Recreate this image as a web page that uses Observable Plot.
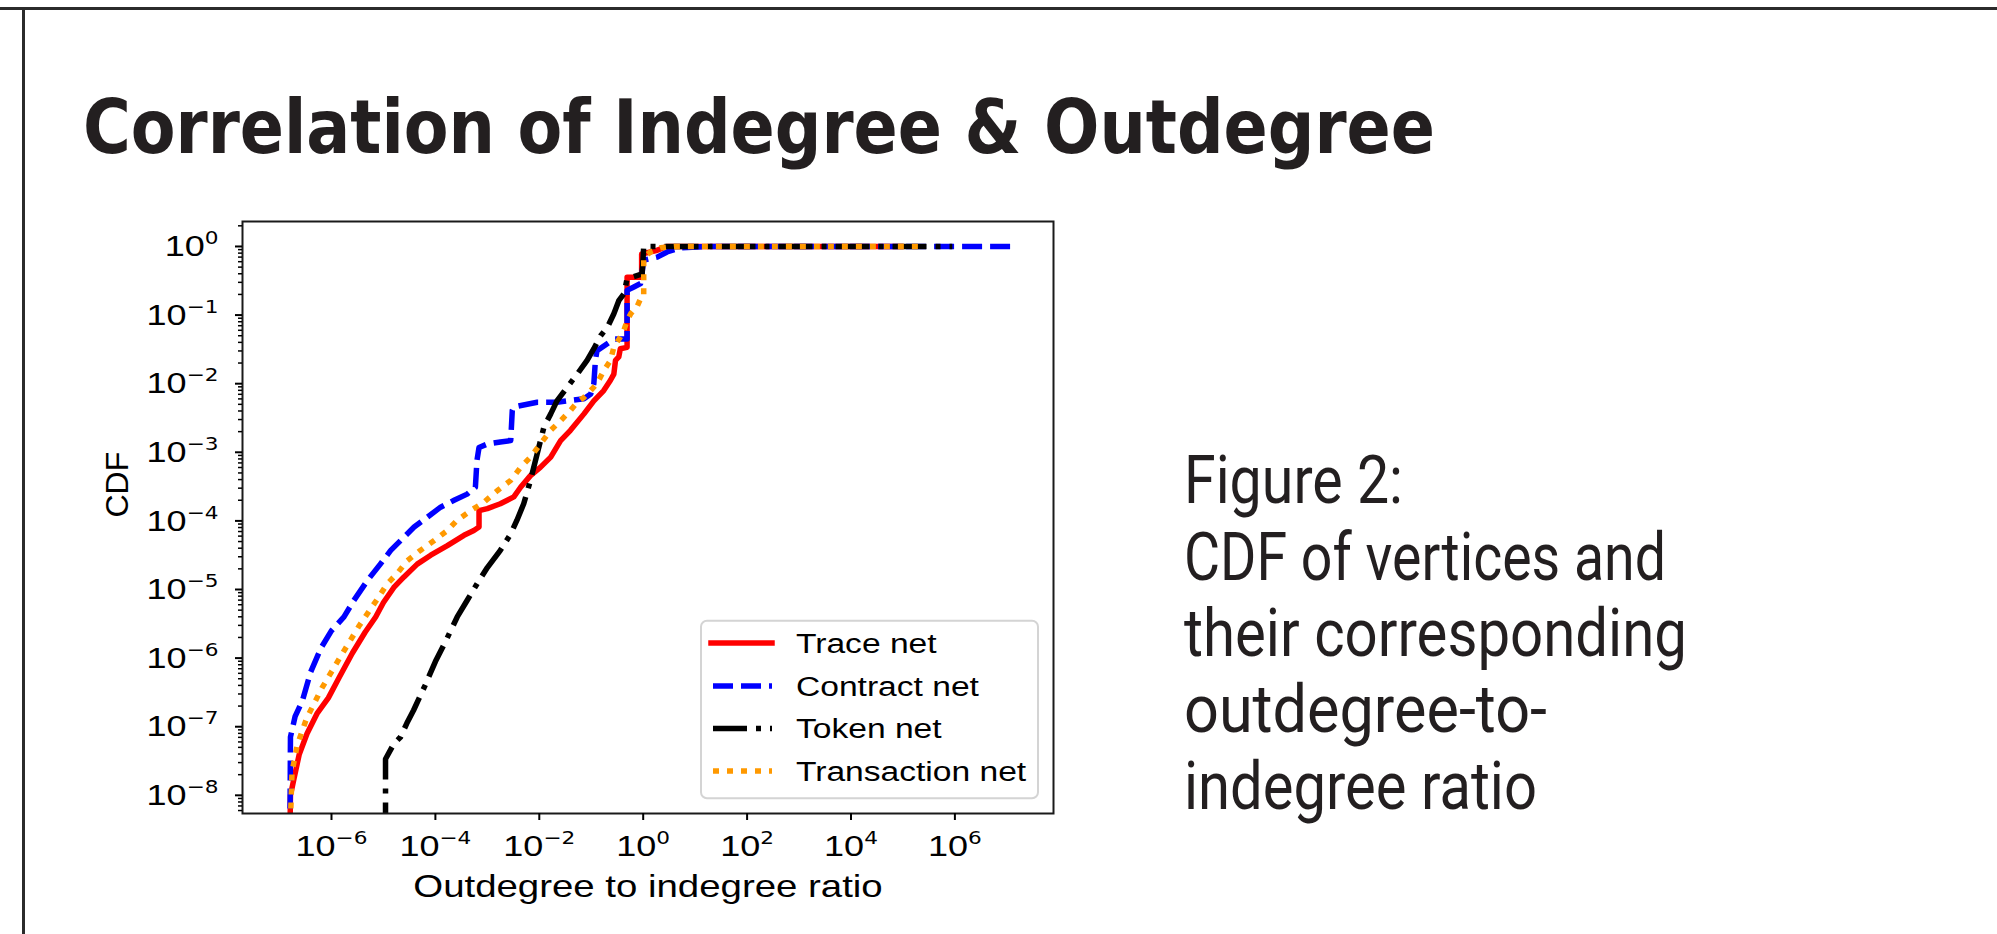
<!DOCTYPE html>
<html>
<head>
<meta charset="utf-8">
<script src="https://cdn.jsdelivr.net/npm/d3@7"></script>
<script src="https://cdn.jsdelivr.net/npm/@observablehq/plot@0.6"></script>
<style>
  html, body { margin: 0; padding: 0; background: #fff; }
  #page { position: relative; width: 1997px; height: 934px; overflow: hidden; background: #fff; }
  #page > svg { position: absolute; }
</style>
</head>
<body>
<div id="page"></div>
<script>
// ---------------- DATA (log10 of ratio, log10 of CDF) ----------------
const traceLogX = [-6.80,-6.79,-6.72,-6.62,-6.47,-6.28,-6.06,-5.85,-5.60,-5.35,-5.15,-5.00,-4.80,-4.61,-4.35,-4.09,-3.77,-3.45,-3.26,-3.16,-3.16,-3.00,-2.75,-2.49,-2.36,-2.17,-1.98,-1.78,-1.59,-1.40,-1.14,-0.95,-0.76,-0.63,-0.565,-0.533,-0.47,-0.44,-0.31,-0.31,-0.03,-0.03,0.25,0.45,5.0];
const traceLogCdf = [-8.60,-8.00,-7.75,-7.40,-7.10,-6.81,-6.58,-6.28,-5.93,-5.62,-5.40,-5.19,-4.97,-4.82,-4.63,-4.50,-4.36,-4.21,-4.14,-4.09,-3.85,-3.82,-3.75,-3.65,-3.51,-3.34,-3.22,-3.07,-2.83,-2.68,-2.44,-2.25,-2.10,-1.95,-1.86,-1.66,-1.61,-1.49,-1.47,-0.45,-0.45,-0.11,-0.06,0.0,0.0];

const contractLogX = [-6.80,-6.79,-6.70,-6.56,-6.40,-6.20,-6.00,-5.76,-5.57,-5.31,-5.06,-4.86,-4.61,-4.41,-4.16,-3.90,-3.64,-3.39,-3.23,-3.20,-3.16,-3.00,-2.75,-2.55,-2.52,-2.49,-2.04,-1.66,-1.46,-1.14,-1.01,-0.95,-0.92,-0.89,-0.565,-0.31,-0.31,-0.18,-0.05,0.01,0.27,0.46,0.72,1.2,7.17];
const contractLogCdf = [-8.60,-7.15,-6.85,-6.62,-6.20,-5.85,-5.60,-5.40,-5.16,-4.87,-4.63,-4.43,-4.24,-4.09,-3.95,-3.80,-3.70,-3.61,-3.51,-3.12,-2.93,-2.88,-2.85,-2.83,-2.39,-2.34,-2.27,-2.27,-2.25,-2.22,-2.15,-2.00,-1.66,-1.52,-1.35,-1.35,-0.64,-0.59,-0.54,-0.20,-0.155,-0.08,-0.02,0.0,0.0];

const tokenLogX = [-4.96,-4.96,-4.80,-4.67,-4.55,-4.42,-4.20,-4.00,-3.80,-3.58,-3.39,-3.20,-3.00,-2.75,-2.55,-2.43,-2.30,-2.17,-2.04,-1.91,-1.78,-1.66,-1.46,-1.27,-1.08,-0.95,-0.82,-0.69,-0.565,-0.53,-0.47,-0.37,-0.31,-0.02,0.01,5.95];
const tokenLogCdf = [-8.60,-7.47,-7.25,-7.15,-6.95,-6.76,-6.40,-6.05,-5.75,-5.40,-5.16,-4.92,-4.68,-4.43,-4.19,-3.99,-3.75,-3.41,-3.02,-2.63,-2.44,-2.25,-2.05,-1.86,-1.66,-1.49,-1.30,-1.18,-0.98,-0.91,-0.79,-0.69,-0.47,-0.40,0.0,0.0];

const transactionLogX = [-6.80,-6.76,-6.66,-6.48,-6.18,-5.82,-5.46,-5.10,-4.93,-4.74,-4.54,-4.29,-4.03,-3.77,-3.58,-3.32,-3.07,-2.81,-2.55,-2.36,-2.17,-1.98,-1.78,-1.59,-1.40,-1.27,-1.14,-1.01,-0.89,-0.76,-0.63,-0.565,-0.44,-0.37,-0.31,-0.24,-0.12,-0.05,0.01,0.01,0.14,0.33,0.6,5.36];
const transactionLogCdf = [-8.60,-7.66,-7.27,-6.88,-6.43,-5.97,-5.52,-5.12,-4.92,-4.77,-4.58,-4.43,-4.29,-4.14,-3.99,-3.85,-3.73,-3.56,-3.41,-3.22,-3.07,-2.88,-2.68,-2.54,-2.39,-2.27,-2.20,-2.10,-2.00,-1.81,-1.66,-1.47,-1.32,-1.22,-1.08,-0.98,-0.88,-0.76,-0.74,-0.155,-0.08,-0.02,0.0,0.0];

const seriesNames = ["Trace net", "Contract net", "Token net", "Transaction net"];
const seriesColors = ["#ff0000", "#0000ff", "#000000", "#ff9900"];
const xTickExps = [-6, -4, -2, 0, 2, 4, 6];
const yTickExps = [0, -1, -2, -3, -4, -5, -6, -7, -8];
const xLabel = "Outdegree to indegree ratio";
const yLabel = "CDF";
const titleText = "Correlation of Indegree & Outdegree";
const captionLines = ["Figure 2:", "CDF of vertices and", "their corresponding", "outdegree-to-", "indegree ratio"];

// ---------------- BUILD ----------------
const seriesData = [
  [traceLogX, traceLogCdf],
  [contractLogX, contractLogCdf],
  [tokenLogX, tokenLogCdf],
  [transactionLogX, transactionLogCdf]
].map(([xs, ys], i) => xs.map((x, j) => ({series: seriesNames[i], x: 10 ** x, y: 10 ** ys[j]})));

const LW = 5.5;
const styles = [
  {strokeWidth: LW, strokeLinecap: "round"},
  {strokeWidth: LW, strokeDasharray: "20,8", strokeLinecap: "butt"},
  {strokeWidth: LW, strokeDasharray: "34,9,5,9", strokeLinecap: "butt"},
  {strokeWidth: LW, strokeDasharray: "6,8", strokeLinecap: "butt"}
];

const xDomain = [10 ** -7.713, 10 ** 7.898];
const yDomain = [10 ** -8.265, 10 ** 0.364];
const minorY = [];
for (let e = -9; e <= 0; e++) for (let m = 2; m <= 9; m++) {
  const v = m * 10 ** e;
  if (v >= yDomain[0] && v <= yDomain[1]) minorY.push(v);
}

const fontFam = "'Liberation Sans', Arial, Helvetica, sans-serif";
const svgTop = 180;

const chart = Plot.plot({
  width: 1080,
  height: 730,
  marginLeft: 242,
  marginRight: 27,
  marginTop: 41,
  marginBottom: 97,
  style: {fontFamily: fontFam, fontSize: "30px", color: "#000", background: "transparent"},
  x: {type: "log", domain: xDomain},
  y: {type: "log", domain: yDomain},
  marks: [
    ...seriesData.map((d, i) => Plot.line(d, {x: "x", y: "y", stroke: seriesColors[i], strokeLinejoin: "round", clip: true, ...styles[i]})),
    Plot.frame({stroke: "#1a1a1a", strokeWidth: 2}),
    Plot.axisX({ticks: xTickExps.map(e => 10 ** e), tickSize: 7, tickPadding: 14, strokeWidth: 2, fontSize: 30,
      tickFormat: d => "10^" + Math.round(Math.log10(d)), label: null}),
    Plot.axisY({ticks: yTickExps.map(e => 10 ** e), tickSize: 7, tickPadding: 17, strokeWidth: 2, fontSize: 30,
      tickFormat: d => "10^" + Math.round(Math.log10(d)), label: null}),
    Plot.axisY({ticks: minorY, tickSize: 4, strokeWidth: 1.5, tickFormat: () => "", label: null}),
    Plot.text([xLabel], {frameAnchor: "bottom", dy: 73, lineAnchor: "middle", fontSize: 32, text: d => d}),
    Plot.text([yLabel], {frameAnchor: "left", dx: -125, rotate: -90, fontSize: 32, text: d => d})
  ]
});

const page = document.getElementById("page");

// page svg: borders, title and caption
const pg = d3.select(page).append("svg").attr("width", 1997).attr("height", 934).style("left", "0px").style("top", "0px");
pg.append("rect").attr("x", 0).attr("y", 7).attr("width", 1997).attr("height", 3).attr("fill", "#2b2b2b");
pg.append("rect").attr("x", 22).attr("y", 7).attr("width", 3).attr("height", 927).attr("fill", "#2b2b2b");
pg.append("text").attr("x", 83).attr("y", 153)
  .attr("font-family", "'DejaVu Sans Condensed', 'DejaVu Sans', sans-serif")
  .attr("font-weight", "bold").attr("font-stretch", "condensed")
  .attr("font-size", 75).attr("fill", "#231f20")
  .attr("textLength", 1352).attr("lengthAdjust", "spacingAndGlyphs")
  .text(titleText);
const capBase = [503, 579.5, 656, 732, 809];
const capLen = [219, 482, 503, 363, 353];
captionLines.forEach((line, i) => {
  pg.append("text").attr("x", 1184).attr("y", capBase[i])
    .attr("font-family", "Roboto, 'Noto Sans', sans-serif")
    .attr("font-size", 66).attr("fill", "#231f20")
    .attr("textLength", capLen[i]).attr("lengthAdjust", "spacingAndGlyphs")
    .text(line);
});

chart.style.left = "0px";
chart.style.top = svgTop + "px";
page.appendChild(chart);

// superscript tick labels
function superscriptify(sel) {
  chart.querySelectorAll(sel).forEach(t => {
    const s = t.textContent;
    if (!s.includes("^")) return;
    const [base, exp] = s.split("^");
    t.textContent = base;
    const ts = document.createElementNS("http://www.w3.org/2000/svg", "tspan");
    ts.setAttribute("dy", "-12");
    ts.setAttribute("font-size", "18");
    ts.setAttribute("font-family", "'DejaVu Sans', sans-serif");
    ts.textContent = exp.replace("-", "\u2212");
    t.appendChild(ts);
  });
}
superscriptify('g[aria-label="x-axis tick label"] text');
superscriptify('g[aria-label="y-axis tick label"] text');

function stretch(t, k) {
  const x = +t.getAttribute("x") || 0, y = +t.getAttribute("y") || 0;
  const tr = t.getAttribute("transform") || "";
  t.setAttribute("transform", `${tr} translate(${x},${y}) scale(${k},1) translate(${-x},${-y})`);
}
chart.querySelectorAll('g[aria-label="x-axis tick label"] text, g[aria-label="y-axis tick label"] text').forEach(t => stretch(t, 1.2));
chart.querySelectorAll('text').forEach(t => { if (t.textContent === xLabel) stretch(t, 1.2); });

// legend
const lg = d3.select(chart).append("g").attr("font-family", fontFam).attr("text-anchor", "start");
lg.append("rect").attr("x", 701).attr("y", 620.7 - svgTop).attr("width", 337).attr("height", 177.5)
  .attr("rx", 6).attr("fill", "#fff").attr("fill-opacity", 0.8).attr("stroke", "#d4d4d4").attr("stroke-width", 2);
const rowsY = [643, 686, 728.5, 771];
seriesNames.forEach((name, i) => {
  const y = rowsY[i] - svgTop;
  const st = styles[i];
  lg.append("line").attr("x1", i === 0 ? 711 : 713).attr("x2", 772).attr("y1", y).attr("y2", y)
    .attr("stroke", seriesColors[i]).attr("stroke-width", st.strokeWidth)
    .attr("stroke-dasharray", st.strokeDasharray || null)
    .attr("stroke-linecap", i === 0 ? "square" : "butt");
  const t = lg.append("text").attr("x", 796).attr("y", y + 10).attr("font-size", 28).attr("fill", "#000")
    .attr("text-anchor", "start").text(name);
  stretch(t.node(), 1.2);
});
</script>
</body>
</html>
